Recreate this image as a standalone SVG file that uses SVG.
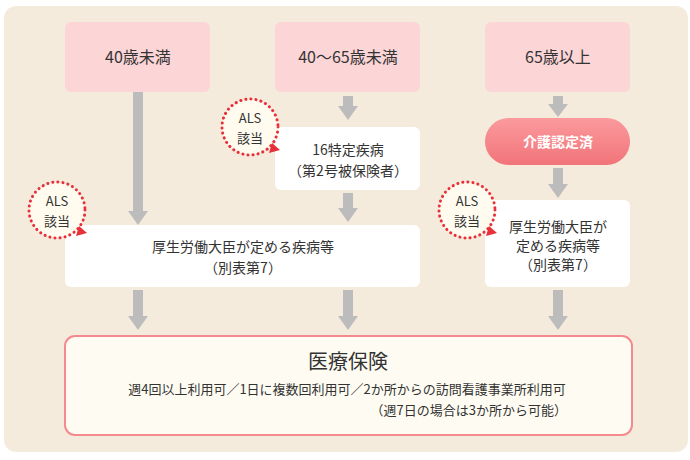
<svg xmlns="http://www.w3.org/2000/svg" width="690" height="460" viewBox="0 0 690 460">
<defs>
<style>
text{font-family:"Noto Sans CJK JP","Noto Sans",sans-serif;fill:#333;text-anchor:middle}
.top{fill:#fcd5d7}
.wb{fill:#fff}
.als{fill:#fffcef;stroke:#e8303a;stroke-width:3;stroke-dasharray:0.1 5;stroke-linecap:round}
.sh{stroke:#bcbcbc;stroke-width:10}
.hd{fill:#bcbcbc}
</style>
<linearGradient id="pg" x1="0" y1="0" x2="0" y2="1"><stop offset="0" stop-color="#fb9a9d"/><stop offset="1" stop-color="#f17479"/></linearGradient>
</defs>
<rect x="0" y="0" width="690" height="460" fill="#fff"/>
<rect x="4" y="6" width="684" height="446" rx="12" fill="#f5ebdd"/>
<g id="connectors">
<line class="sh" x1="138" y1="92" x2="138" y2="213"/><polygon class="hd" points="128,211 148,211 138,225"/>
<line class="sh" x1="348" y1="96" x2="348" y2="108"/><polygon class="hd" points="338,106 358,106 348,120"/>
<line class="sh" x1="348" y1="193" x2="348" y2="210"/><polygon class="hd" points="338,208 358,208 348,222"/>
<line class="sh" x1="558" y1="96" x2="558" y2="106"/><polygon class="hd" points="548,104 568,104 558,117"/>
<line class="sh" x1="558" y1="168" x2="558" y2="186"/><polygon class="hd" points="548,184 568,184 558,198"/>
<line class="sh" x1="138" y1="290" x2="138" y2="318"/><polygon class="hd" points="128,316 148,316 138,330"/>
<line class="sh" x1="348" y1="290" x2="348" y2="318"/><polygon class="hd" points="338,316 358,316 348,330"/>
<line class="sh" x1="558" y1="290" x2="558" y2="318"/><polygon class="hd" points="548,316 568,316 558,330"/>
</g>
<g id="n40"><rect class="top" x="65" y="22" width="145" height="70" rx="6"/><text x="138" y="63" font-size="16">40歳未満</text></g>
<g id="n40-65"><rect class="top" x="275" y="22" width="145" height="70" rx="6"/><text x="348" y="63" font-size="16">40～65歳未満</text></g>
<g id="n65"><rect class="top" x="485" y="22" width="145" height="70" rx="6"/><text x="558" y="63" font-size="16">65歳以上</text></g>
<g id="kaigo"><rect x="485" y="118" width="145" height="47" rx="23.5" fill="url(#pg)"/><text x="558" y="147" font-size="14" font-weight="bold" style="fill:#fff">介護認定済</text></g>
<g id="n16"><rect class="wb" x="275" y="127" width="145" height="63" rx="6"/><text x="348" y="155" font-size="14">16特定疾病</text><text x="348" y="176" font-size="14">（第2号被保険者）</text></g>
<g id="kosei1"><rect class="wb" x="65" y="225" width="355" height="62" rx="6"/><text x="243" y="252" font-size="14">厚生労働大臣が定める疾病等</text><text x="243" y="273" font-size="14">（別表第7）</text></g>
<g id="kosei2"><rect class="wb" x="485" y="200" width="145" height="87" rx="6"/><text x="558" y="232" font-size="14">厚生労働大臣が</text><text x="558" y="251" font-size="14">定める疾病等</text><text x="558" y="270" font-size="14">（別表第7）</text></g>
<g id="als1"><circle class="als" cx="250" cy="127" r="28"/><polygon points="272,143 280,150 269,153" fill="#e8303a"/><text x="250" y="123" font-size="13">ALS</text><text x="250" y="143" font-size="13">該当</text></g>
<g id="als2"><circle class="als" cx="57" cy="210" r="28"/><polygon points="79,226 87,233 76,236" fill="#e8303a"/><text x="57" y="206" font-size="13">ALS</text><text x="57" y="226" font-size="13">該当</text></g>
<g id="als3"><circle class="als" cx="467" cy="210" r="28"/><polygon points="489,226 497,233 486,236" fill="#e8303a"/><text x="467" y="206" font-size="13">ALS</text><text x="467" y="226" font-size="13">該当</text></g>
<g id="iryo"><rect x="65" y="336" width="567" height="99" rx="10" fill="#fefcf2" stroke="#f48a8e" stroke-width="2"/><text x="348" y="369" font-size="20">医療保険</text><text x="347" y="394" font-size="13">週4回以上利用可／1日に複数回利用可／2か所からの訪問看護事業所利用可</text><text x="567" y="415" font-size="13" style="text-anchor:end">（週7日の場合は3か所から可能）</text></g>
</svg>
